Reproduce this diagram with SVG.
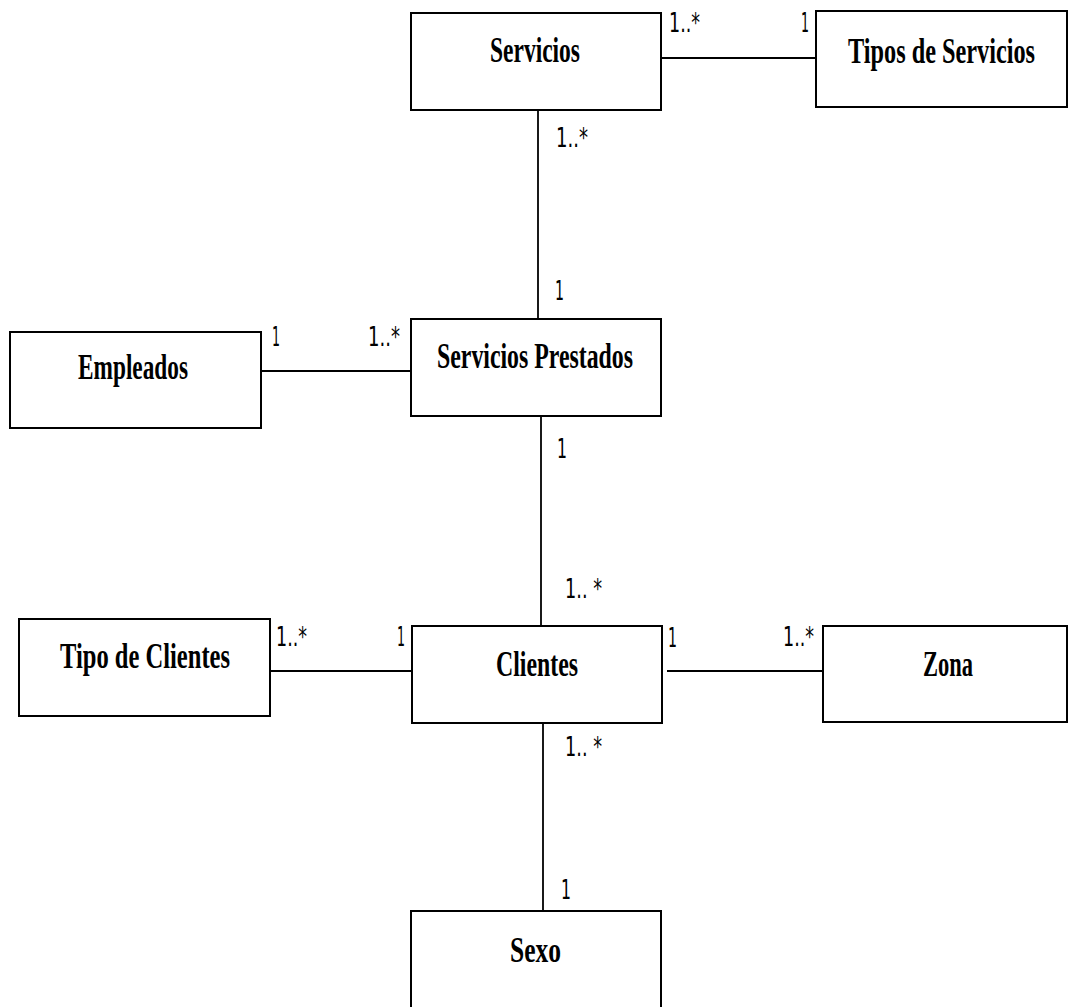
<svg xmlns="http://www.w3.org/2000/svg" width="1068" height="1007" viewBox="0 0 1068 1007">
  <style>
    .box { fill: #ffffff; stroke: #000000; stroke-width: 2; }
    .name { font-family: "Liberation Serif", "Times New Roman", serif; font-weight: bold; font-size: 35px; fill: #000000; }
    .mult { font-family: "DejaVu Sans", "Liberation Sans", sans-serif; font-size: 27px; fill: #000000; }
    .link { stroke: #000000; stroke-width: 1.8; fill: none; }
  </style>
  <rect x="0" y="0" width="1068" height="1007" fill="#ffffff"/>

  <!-- associations -->
  <g id="connectors">
    <line class="link" x1="662" y1="58" x2="816" y2="58"/>
    <line class="link" x1="538" y1="111" x2="538" y2="319"/>
    <line class="link" x1="261" y1="371" x2="411" y2="371"/>
    <line class="link" x1="541" y1="417" x2="541" y2="626"/>
    <line class="link" x1="270" y1="671" x2="412" y2="671"/>
    <line class="link" x1="667" y1="671" x2="823" y2="671"/>
    <line class="link" x1="543" y1="723" x2="543" y2="911"/>

    <!-- multiplicities -->
    <text class="mult" x="669" y="32" textLength="31" lengthAdjust="spacingAndGlyphs">1..*</text>
    <text class="mult" x="801" y="32" textLength="8" lengthAdjust="spacingAndGlyphs">1</text>
    <text class="mult" x="556" y="147" textLength="32" lengthAdjust="spacingAndGlyphs">1..*</text>
    <text class="mult" x="555" y="300" textLength="9" lengthAdjust="spacingAndGlyphs">1</text>
    <text class="mult" x="272" y="346" textLength="8" lengthAdjust="spacingAndGlyphs">1</text>
    <text class="mult" x="368" y="346" textLength="32" lengthAdjust="spacingAndGlyphs">1..*</text>
    <text class="mult" x="557" y="458" textLength="10" lengthAdjust="spacingAndGlyphs">1</text>
    <text class="mult" x="565" y="598" textLength="37" lengthAdjust="spacingAndGlyphs">1.. *</text>
    <text class="mult" x="276" y="646" textLength="31" lengthAdjust="spacingAndGlyphs">1..*</text>
    <text class="mult" x="397" y="646" textLength="8" lengthAdjust="spacingAndGlyphs">1</text>
    <text class="mult" x="668" y="647" textLength="9" lengthAdjust="spacingAndGlyphs">1</text>
    <text class="mult" x="783" y="646" textLength="31" lengthAdjust="spacingAndGlyphs">1..*</text>
    <text class="mult" x="565" y="756" textLength="37" lengthAdjust="spacingAndGlyphs">1.. *</text>
    <text class="mult" x="561" y="899" textLength="10" lengthAdjust="spacingAndGlyphs">1</text>
  </g>

  <!-- classes -->
  <g id="servicios">
    <rect class="box" x="411" y="13" width="250" height="97"/>
    <text class="name" x="490" y="62" textLength="90" lengthAdjust="spacingAndGlyphs">Servicios</text>
  </g>
  <g id="tipos-de-servicios">
    <rect class="box" x="816" y="11" width="251" height="96"/>
    <text class="name" x="848" y="63" textLength="187" lengthAdjust="spacingAndGlyphs">Tipos de Servicios</text>
  </g>
  <g id="empleados">
    <rect class="box" x="10" y="332" width="251" height="96"/>
    <text class="name" x="78" y="379" textLength="110" lengthAdjust="spacingAndGlyphs">Empleados</text>
  </g>
  <g id="servicios-prestados">
    <rect class="box" x="411" y="319" width="250" height="97"/>
    <text class="name" x="437" y="368" textLength="196" lengthAdjust="spacingAndGlyphs">Servicios Prestados</text>
  </g>
  <g id="tipo-de-clientes">
    <rect class="box" x="19" y="619" width="251" height="97"/>
    <text class="name" x="60" y="668" textLength="170" lengthAdjust="spacingAndGlyphs">Tipo de Clientes</text>
  </g>
  <g id="clientes">
    <rect class="box" x="412" y="626" width="250" height="97"/>
    <text class="name" x="496" y="676" textLength="82" lengthAdjust="spacingAndGlyphs">Clientes</text>
  </g>
  <g id="zona">
    <rect class="box" x="823" y="626" width="244" height="96"/>
    <text class="name" x="923" y="676" textLength="50" lengthAdjust="spacingAndGlyphs">Zona</text>
  </g>
  <g id="sexo">
    <rect class="box" x="411" y="911" width="250" height="110"/>
    <text class="name" x="510" y="962" textLength="51" lengthAdjust="spacingAndGlyphs">Sexo</text>
  </g>
</svg>
